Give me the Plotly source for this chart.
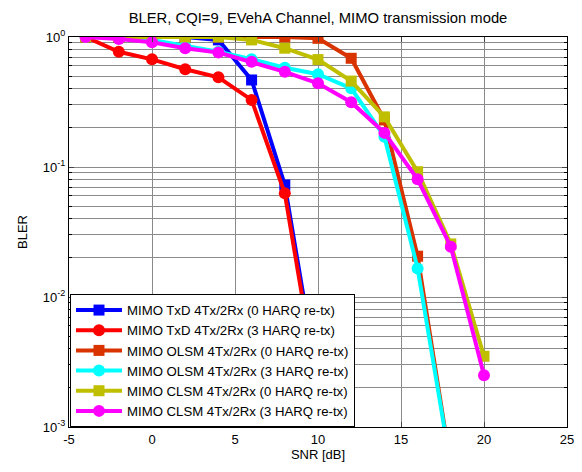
import plotly.graph_objects as go

snr = [-4, -2, 0, 2, 4, 6, 8, 10, 12, 14, 16, 18, 20]
snr_txd = [-4, -2, 0, 2, 4, 6, 8, 10]
snr_olsm = [-4, -2, 0, 2, 4, 6, 8, 10, 12, 14, 16, 18]

txd_0 = [1.0, 1.0, 1.0, 1.0, 0.95, 0.467, 0.0727, 0.0022]
txd_3 = [1.0, 0.77, 0.673, 0.565, 0.49, 0.328, 0.0627, 0.0019]
olsm_0 = [1.0, 1.0, 1.0, 1.0, 1.0, 1.0, 1.0, 0.977, 0.686, 0.23, 0.0206, 0.0005]
olsm_3 = [1.0, 0.985, 0.95, 0.85, 0.77, 0.674, 0.58, 0.517, 0.403, 0.171, 0.0166, 0.0005]
clsm_0 = [1.0, 1.0, 1.0, 1.0, 1.0, 0.95, 0.82, 0.67, 0.458, 0.243, 0.092, 0.0256, 0.0035]
clsm_3 = [1.0, 0.965, 0.91, 0.82, 0.76, 0.645, 0.54, 0.44, 0.315, 0.183, 0.0804, 0.0244, 0.0025]

names = [
    "MIMO TxD 4Tx/2Rx (0 HARQ re-tx)",
    "MIMO TxD 4Tx/2Rx (3 HARQ re-tx)",
    "MIMO OLSM 4Tx/2Rx (0 HARQ re-tx)",
    "MIMO OLSM 4Tx/2Rx (3 HARQ re-tx)",
    "MIMO CLSM 4Tx/2Rx (0 HARQ re-tx)",
    "MIMO CLSM 4Tx/2Rx (3 HARQ re-tx)",
]
xs = [snr_txd, snr_txd, snr_olsm, snr_olsm, snr, snr]
ys = [txd_0, txd_3, olsm_0, olsm_3, clsm_0, clsm_3]
colors = ["#0000FF", "#FF0000", "#D93300", "#00FFFF", "#BFBF00", "#FF00FF"]
symbols = ["square", "circle", "square", "circle", "square", "circle"]

x_ticks = [-5, 0, 5, 10, 15, 20, 25]
x_tick_text = ["-5", "0", "5", "10", "15", "20", "25"]
y_major = [1e-3, 1e-2, 1e-1, 1.0]
y_major_text = ["10<sup>-3</sup>", "10<sup>-2</sup>", "10<sup>-1</sup>", "10<sup>0</sup>"]
y_minor = [k * 10.0 ** e for e in (-3, -2, -1) for k in range(2, 10)]

fig = go.Figure()
for x, y, n, c, s in zip(xs, ys, names, colors, symbols):
    fig.add_trace(go.Scatter(
        x=x, y=y, name=n, mode="lines+markers",
        line=dict(color=c, width=4),
        marker=dict(symbol=s, size=11 if s == "square" else 12, color=c,
                    line=dict(width=0)),
    ))

font = "Arial, Liberation Sans, sans-serif"
fig.update_layout(
    width=582, height=472,
    margin=dict(l=69, r=15, t=37, b=45, autoexpand=False),
    paper_bgcolor="white", plot_bgcolor="white",
    font=dict(family=font, size=13, color="black"),
    title=dict(text="BLER, CQI=9, EVehA Channel, MIMO transmission mode",
               x=(69 + 567) / 2 / 582, xanchor="center", y=1 - 18 / 472,
               yanchor="middle", font=dict(size=14.8, family=font)),
    showlegend=True,
    legend=dict(x=0.002, y=0.0, xanchor="left", yanchor="bottom",
                bgcolor="white", bordercolor="black", borderwidth=1,
                font=dict(size=13.2, family=font), tracegroupgap=0,
                itemwidth=46),
)
fig.update_xaxes(
    range=[-5, 25], tickvals=x_ticks, ticktext=x_tick_text,
    ticks="inside", ticklen=5, automargin=False,
    showline=True, linecolor="black", linewidth=1, mirror="ticks",
    showgrid=True, gridcolor="#8a8a8a", gridwidth=1, zeroline=False,
    title=dict(text="SNR [dB]", font=dict(size=13), standoff=2),
    tickfont=dict(size=13),
)
fig.update_yaxes(
    type="log", range=[-3, 0], tickvals=y_major, ticktext=y_major_text,
    ticks="inside", ticklen=5, automargin=False,
    minor=dict(tickmode="array", tickvals=y_minor, ticks="inside", ticklen=3,
               tickcolor="black", showgrid=True, gridcolor="#8a8a8a", gridwidth=1),
    showline=True, linecolor="black", linewidth=1, mirror="ticks",
    showgrid=True, gridcolor="#8a8a8a", gridwidth=1, zeroline=False,
    title=dict(text="BLER", font=dict(size=13), standoff=12),
    tickfont=dict(size=13),
)
fig.write_html("out.html", config={"displayModeBar": False},
               post_script="document.body.style.margin='0';document.body.style.overflow='hidden';")
